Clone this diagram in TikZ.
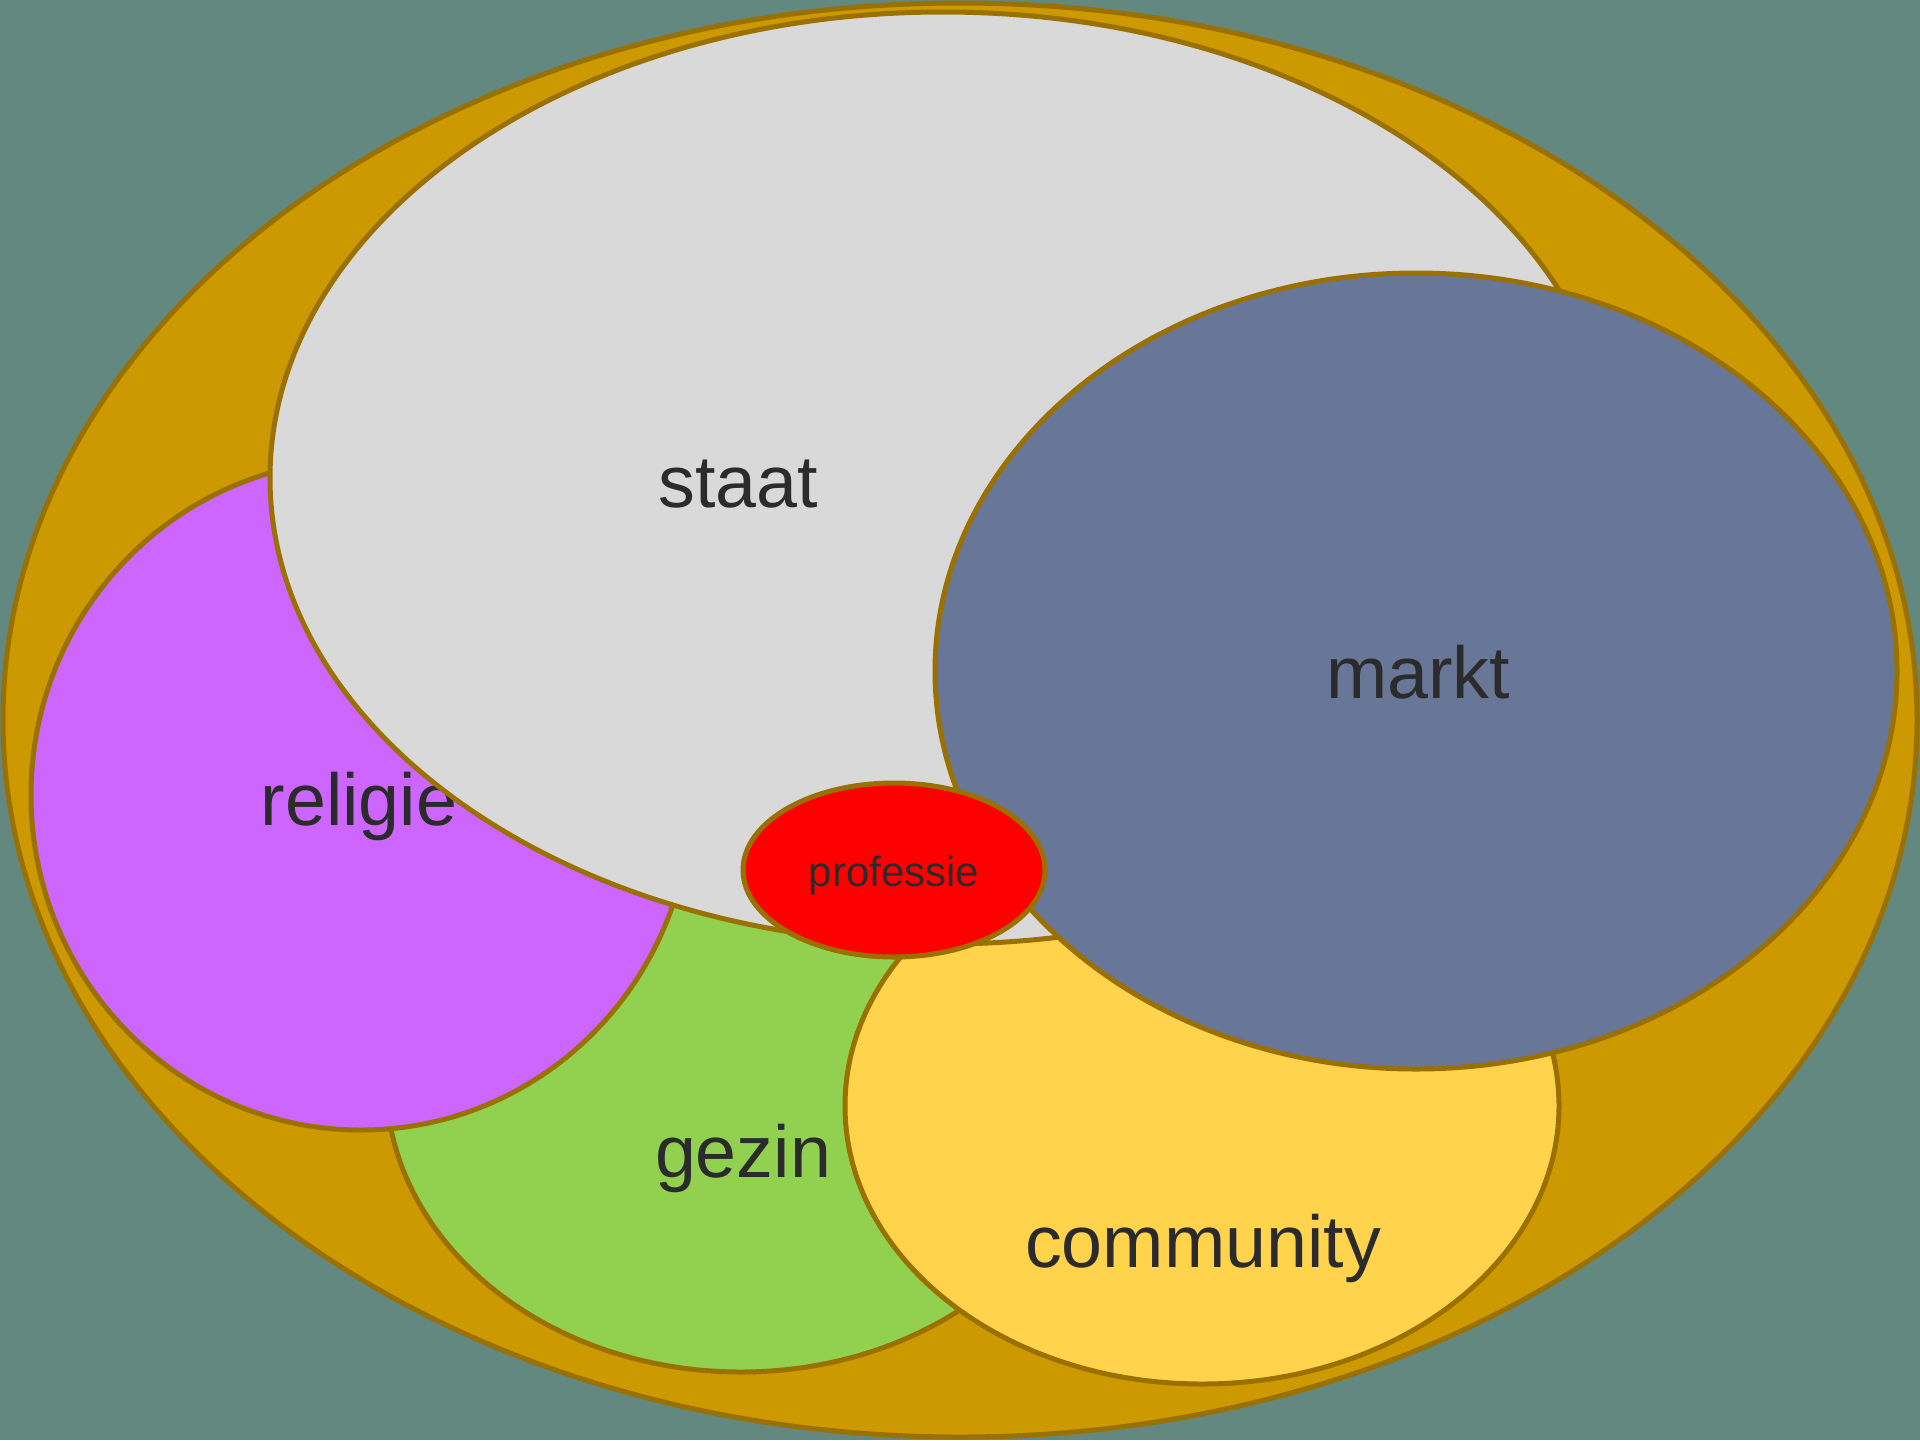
\documentclass[tikz,border=0pt]{standalone}
\usepackage{fontspec}
\setmainfont{Liberation Sans}
\usetikzlibrary{shapes.geometric}
\definecolor{bgc}{HTML}{628880}
\definecolor{edge}{HTML}{9A7000}
\definecolor{outerc}{HTML}{CC9900}
\definecolor{staatc}{HTML}{D9D9D9}
\definecolor{religiec}{HTML}{CC66FF}
\definecolor{gezinc}{HTML}{92D050}
\definecolor{communityc}{HTML}{FFD34B}
\definecolor{marktc}{HTML}{687798}
\definecolor{professiec}{HTML}{FF0000}
\definecolor{txt}{HTML}{2B2B2B}
\tikzset{
  blob/.style={ellipse, draw=edge, line width=2.5pt, inner sep=0pt, outer sep=0pt},
  lbl/.style={text=txt, font=\fontsize{36.8}{40}\selectfont, anchor=base, inner sep=0pt},
  smalllbl/.style={text=txt, font=\fontsize{21}{24}\selectfont, anchor=base, inner sep=0pt}
}
\begin{document}
\begin{tikzpicture}[x=0.5pt, y=-0.5pt]
\useasboundingbox (0,0) rectangle (1920,1440);
\fill[bgc] (0,0) rectangle (1920,1440);
% ellipses: minimum width = rx pt, minimum height = ry pt (1px = 0.5pt)
\node[blob, fill=outerc, minimum width=957pt, minimum height=717pt] (outer) at (960,720) {};
\node[blob, fill=gezinc, minimum width=355pt, minimum height=292pt] (gezin) at (741,1080) {};
\node[lbl] (tgezin) at (743,1177) {gezin};
\node[blob, fill=religiec, minimum width=330pt, minimum height=335pt] (religie) at (361,795) {};
\node[lbl] (treligie) at (359,825) {religie};
\node[blob, fill=communityc, minimum width=357pt, minimum height=278pt] (community) at (1202,1106) {};
\node[lbl] (tcommunity) at (1203,1267) {community};
\node[blob, fill=staatc, minimum width=673pt, minimum height=466pt] (staat) at (943,478) {};
\node[lbl] (tstaat) at (738,507) {staat};
\node[blob, fill=marktc, minimum width=481pt, minimum height=398pt] (markt) at (1416,671) {};
\node[lbl] (tmarkt) at (1418,698) {markt};
\node[blob, fill=professiec, minimum width=151pt, minimum height=87pt] (professie) at (894,870) {};
\node[smalllbl] (tprofessie) at (894,886) {professie};
\end{tikzpicture}
\end{document}
